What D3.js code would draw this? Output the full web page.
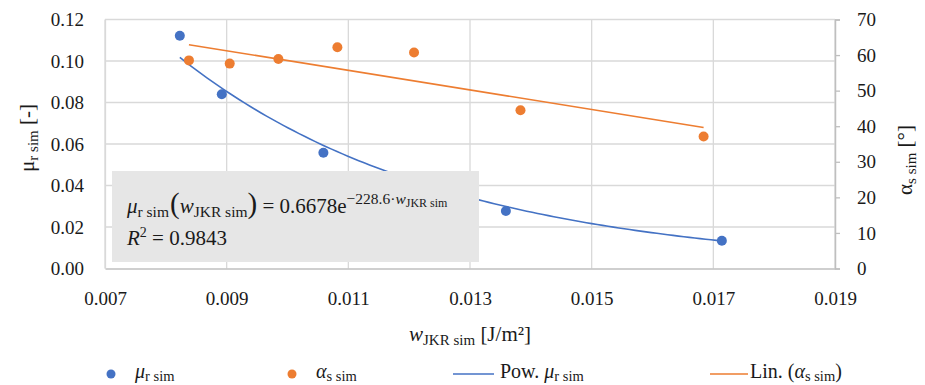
<!DOCTYPE html>
<html>
<head>
<meta charset="utf-8">
<script src="https://cdn.jsdelivr.net/npm/d3@7"></script>
<style>
  body { margin: 0; background: #fff; }
  svg { display: block; }
</style>
</head>
<body>
<svg id="chart"></svg>
<script>
const muW = [0.00823, 0.00892, 0.01059, 0.01359, 0.01714];
const muVal = [0.1122, 0.0840, 0.0558, 0.0277, 0.0134];
const alphaW = [0.00838, 0.00905, 0.00985, 0.01082, 0.01208, 0.01383, 0.01684];
const alphaVal = [58.5, 57.6, 58.9, 62.2, 60.7, 44.5, 37.1];

// trend lines
const powA = 0.6678;
const powB = -228.6;
const linIntercept = 86.0;
const linSlope = -2754;

const xTicks = [0.007, 0.009, 0.011, 0.013, 0.015, 0.017, 0.019];
const yLeftTicks = [0, 0.02, 0.04, 0.06, 0.08, 0.10, 0.12];
const yRightTicks = [0, 10, 20, 30, 40, 50, 60, 70];

const width = 925;
const height = 385;
const margin = { top: 19.5, right: 90, bottom: 116.5, left: 105 };
const blue = "#4472C4";
const orange = "#ED7D31";
const ink = "#1a1a1a";
const font = '"Liberation Serif"';

const svg = d3.select("#chart").attr("width", width).attr("height", height)
  .style("font-family", font);

const x = d3.scaleLinear().domain([0.007, 0.019]).range([margin.left, width - margin.right]);
const yL = d3.scaleLinear().domain([0, 0.12]).range([height - margin.bottom, margin.top]);
const yR = d3.scaleLinear().domain([0, 70]).range([height - margin.bottom, margin.top]);

// gridlines
svg.append("g")
  .selectAll("line.h")
  .data(yLeftTicks.slice(1))
  .join("line")
  .attr("x1", margin.left).attr("x2", width - margin.right)
  .attr("y1", (d) => yL(d)).attr("y2", (d) => yL(d))
  .style("stroke", "#d9d9d9").style("stroke-width", 1.3);

svg.append("g")
  .selectAll("line.v")
  .data(xTicks)
  .join("line")
  .attr("x1", (d) => x(d)).attr("x2", (d) => x(d))
  .attr("y1", margin.top).attr("y2", height - margin.bottom)
  .style("stroke", "#d9d9d9").style("stroke-width", 1.3);

// axes
const xAxis = svg.append("g")
  .attr("transform", `translate(0,${height - margin.bottom})`)
  .call(d3.axisBottom(x).tickValues(xTicks).tickFormat(d3.format(".3f")).tickSize(0).tickPadding(23));

const yAxisL = svg.append("g")
  .attr("transform", `translate(${margin.left},0)`)
  .call(d3.axisLeft(yL).tickValues(yLeftTicks).tickFormat(d3.format(".2f")).tickSize(0).tickPadding(21));

const yAxisR = svg.append("g")
  .attr("transform", `translate(${width - margin.right},0)`)
  .call(d3.axisRight(yR).tickValues(yRightTicks).tickSize(5).tickPadding(17));

[xAxis, yAxisL, yAxisR].forEach((a) => {
  a.attr("font-family", null).attr("font-size", null);
  a.selectAll("text").style("font-family", font).style("font-size", "19px").style("fill", ink);
  a.selectAll("line").style("stroke", "#bfbfbf").style("stroke-width", 1.3);
});
yAxisL.select(".domain").style("stroke", "#d9d9d9").style("stroke-width", 1.3);
xAxis.select(".domain").style("stroke", "#bfbfbf").style("stroke-width", 1.5);
yAxisR.select(".domain").style("stroke", "#bfbfbf").style("stroke-width", 1.5);

// trend lines
let powPts = d3.range(0, 101).map((i) => {
  let w = muW[0] + (muW[muW.length - 1] - muW[0]) * i / 100;
  return [w, powA * Math.exp(powB * w)];
});
svg.append("path")
  .datum(powPts)
  .attr("d", d3.line().x((d) => x(d[0])).y((d) => yL(d[1])))
  .style("fill", "none").style("stroke", blue).style("stroke-width", 1.6);

let linPts = [alphaW[0], alphaW[alphaW.length - 1]].map((w) => [w, linIntercept + linSlope * w]);
svg.append("path")
  .datum(linPts)
  .attr("d", d3.line().x((d) => x(d[0])).y((d) => yR(d[1])))
  .style("fill", "none").style("stroke", orange).style("stroke-width", 1.6);

// points
svg.append("g")
  .selectAll("circle")
  .data(muW.map((w, i) => [w, muVal[i]]))
  .join("circle")
  .attr("cx", (d) => x(d[0])).attr("cy", (d) => yL(d[1])).attr("r", 5)
  .style("fill", blue);

svg.append("g")
  .selectAll("circle")
  .data(alphaW.map((w, i) => [w, alphaVal[i]]))
  .join("circle")
  .attr("cx", (d) => x(d[0])).attr("cy", (d) => yR(d[1])).attr("r", 5)
  .style("fill", orange);

// equation box
svg.append("rect")
  .attr("x", 112).attr("y", 171).attr("width", 367).attr("height", 91)
  .style("fill", "#e6e6e6");

let eq = svg.append("text").attr("x", 127).attr("y", 213).style("font-size", "21px").style("fill", ink);
eq.append("tspan").style("font-style", "italic").text("μ");
eq.append("tspan").attr("dy", 4).style("font-size", "15.5px").text("r sim");
eq.append("tspan").attr("dy", -4).style("font-size", "29px").attr("dx", 1).text("(");
eq.append("tspan").style("font-style", "italic").text("w");
eq.append("tspan").attr("dy", 4).style("font-size", "15.5px").text("JKR sim");
eq.append("tspan").attr("dy", -4).style("font-size", "29px").text(")");
eq.append("tspan").text(" = 0.6678e");
eq.append("tspan").attr("dy", -9).style("font-size", "15.5px").text("−228.6·");
eq.append("tspan").style("font-size", "15.5px").style("font-style", "italic").text("w");
eq.append("tspan").attr("dy", 3).style("font-size", "12px").text("JKR sim");

let r2 = svg.append("text").attr("x", 127).attr("y", 245).style("font-size", "21px").style("fill", ink);
r2.append("tspan").style("font-style", "italic").text("R");
r2.append("tspan").attr("dy", -8).style("font-size", "14px").text("2");
r2.append("tspan").attr("dy", 8).text(" = 0.9843");

// axis titles
let xt = svg.append("text").attr("x", 470).attr("y", 341).attr("text-anchor", "middle")
  .style("font-size", "21px").style("fill", ink);
xt.append("tspan").style("font-style", "italic").text("w");
xt.append("tspan").attr("dy", 4).style("font-size", "15px").text("JKR sim");
xt.append("tspan").attr("dy", -4).text(" [J/m²]");

let ylt = svg.append("text").attr("transform", `translate(34,${(margin.top + height - margin.bottom) / 2 - 6}) rotate(-90)`)
  .attr("text-anchor", "middle").style("font-size", "21px").style("fill", ink);
ylt.append("tspan").text("μ");
ylt.append("tspan").attr("dy", 4).style("font-size", "15px").text("r sim");
ylt.append("tspan").attr("dy", -4).text(" [-]");

let yrt = svg.append("text").attr("transform", `translate(912,${(margin.top + height - margin.bottom) / 2 + 16}) rotate(-90)`)
  .attr("text-anchor", "middle").style("font-size", "21px").style("fill", ink);
yrt.append("tspan").text("α");
yrt.append("tspan").attr("dy", 4).style("font-size", "15px").text("s sim");
yrt.append("tspan").attr("dy", -4).text(" [°]");

// legend
const legY = 374;
const legend = svg.append("g");
legend.append("circle").attr("cx", 111).attr("cy", legY).attr("r", 4.5).style("fill", blue);
legend.append("circle").attr("cx", 292).attr("cy", legY).attr("r", 4.5).style("fill", orange);
legend.append("line").attr("x1", 453).attr("x2", 494).attr("y1", legY).attr("y2", legY)
  .style("stroke", blue).style("stroke-width", 1.6);
legend.append("line").attr("x1", 710).attr("x2", 748).attr("y1", legY).attr("y2", legY)
  .style("stroke", orange).style("stroke-width", 1.6);

function legText(xp, parts) {
  let t = legend.append("text").attr("x", xp).attr("y", legY + 4).style("font-size", "20px").style("fill", ink);
  parts.forEach((p) => {
    let s = t.append("tspan").text(p.t);
    if (p.i) s.style("font-style", "italic");
    if (p.sub) s.attr("dy", 2.5).style("font-size", "14.5px");
    if (p.back) s.attr("dy", -2.5);
  });
}
legText(135, [{ t: "μ", i: true }, { t: "r sim", sub: true }]);
legText(316, [{ t: "α", i: true }, { t: "s sim", sub: true }]);
legText(500, [{ t: "Pow.  " }, { t: "μ", i: true }, { t: "r sim", sub: true }]);
legText(750, [{ t: "Lin. (" }, { t: "α", i: true }, { t: "s sim", sub: true }, { t: ")", back: true }]);
</script>
</body>
</html>
